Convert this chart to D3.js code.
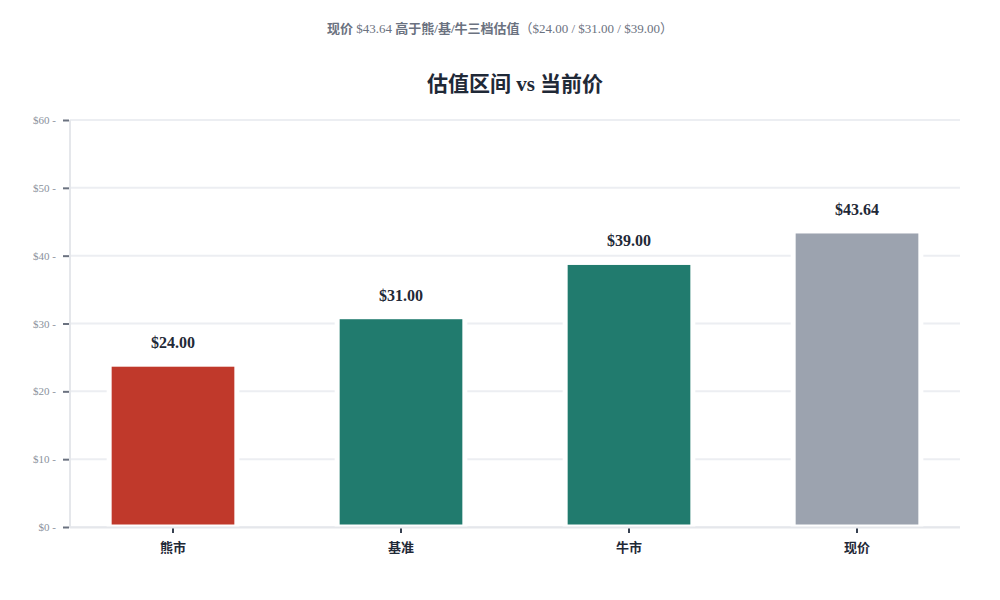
<!DOCTYPE html>
<html>
<head>
<meta charset="utf-8">
<script src="https://cdn.jsdelivr.net/npm/d3@7"></script>
<style>
  body { margin: 0; background: #fff; }
  text { font-family: "Liberation Serif", "Times New Roman", "Noto Sans CJK SC", serif; }
</style>
</head>
<body>
<div id="chart"></div>
<script>
// chart data
var categories = ['熊市', '基准', '牛市', '现价'];
var values = [24.00, 31.00, 39.00, 43.64];
var barColors = ['#c0392b', '#217b6e', '#217b6e', '#9ca3af'];
var yTicks = [0, 10, 20, 30, 40, 50, 60];

var width = 1000, height = 600;

var svg = d3.select("#chart")
  .append("svg")
    .attr("width", width)
    .attr("height", height);

// subtitle, cjk parts bold
var sub = svg.append("text")
  .attr("x", 500)
  .attr("y", 33)
  .attr("text-anchor", "middle")
  .attr("fill", "#6b7280")
  .style("font-size", "13px");
sub.append("tspan").attr("font-weight", "bold").text("现价 ");
sub.append("tspan").text("$" + values[3].toFixed(2) + " ");
sub.append("tspan").attr("font-weight", "bold").text("高于熊/基/牛三档估值");
sub.append("tspan").text("（$" + values.slice(0, 3).map(function(v) { return v.toFixed(2); }).join(" / $") + "）");

svg.append("text")
  .attr("x", 515)
  .attr("y", 91)
  .attr("text-anchor", "middle")
  .attr("fill", "#1f2937")
  .attr("font-weight", "bold")
  .style("font-size", "21px")
  .text("估值区间 vs 当前价");

var x = d3.scaleBand()
  .domain(categories)
  .range([59, 971])
  .paddingInner(0.44)
  .paddingOuter(0.22);

var y = d3.scaleLinear()
  .domain([0, 60])
  .range([527, 120]);

// grid lines
svg.append("g")
  .selectAll("line")
  .data(yTicks)
  .join("line")
    .attr("x1", 70)
    .attr("x2", 960)
    .attr("y1", function(d) { return y(d); })
    .attr("y2", function(d) { return y(d); })
    .attr("stroke", "#eceef2")
    .attr("stroke-width", 2);

// bars
svg.append("g")
  .selectAll("rect")
  .data(values)
  .join("rect")
    .attr("x", function(d, i) { return x(categories[i]); })
    .attr("y", function(d) { return y(d); })
    .attr("width", x.bandwidth())
    .attr("height", function(d) { return y(0) - y(d); })
    .attr("fill", function(d, i) { return barColors[i]; })
    .attr("stroke", "#fff")
    .attr("stroke-width", 5);

// value labels
svg.append("g")
  .selectAll("text")
  .data(values)
  .join("text")
    .attr("x", function(d, i) { return x(categories[i]) + x.bandwidth() / 2; })
    .attr("y", function(d) { return y(d) - 16; })
    .attr("text-anchor", "middle")
    .attr("fill", "#1f2937")
    .attr("font-weight", "bold")
    .style("font-size", "16px")
    .text(function(d) { return "$" + d.toFixed(2); });

// y axis
var yAxis = d3.axisLeft(y)
  .tickValues(yTicks)
  .tickSize(6)
  .tickPadding(7)
  .tickFormat(function(d) { return "$" + d + " -"; });

var gy = svg.append("g")
  .attr("transform", "translate(69,0)")
  .call(yAxis);
gy.select(".domain").remove();
gy.selectAll(".tick line").attr("stroke", "#6b7280").attr("stroke-width", 2);
gy.selectAll(".tick text")
  .attr("fill", "#8a919c")
  .style("font-size", "11px")
  .style("font-family", "'Liberation Serif', serif");

svg.append("line")
  .attr("x1", 70).attr("x2", 70)
  .attr("y1", y(60)).attr("y2", y(0) + 1)
  .attr("stroke", "#e5e7eb")
  .attr("stroke-width", 2);

// x axis
var xAxis = d3.axisBottom(x)
  .tickSize(5)
  .tickPadding(10);

var gx = svg.append("g")
  .attr("transform", "translate(0," + (y(0) + 1) + ")")
  .call(xAxis);
gx.select(".domain").remove();
gx.selectAll(".tick line").attr("stroke", "#374151").attr("stroke-width", 2);
gx.selectAll(".tick text")
  .attr("fill", "#1f2937")
  .attr("font-weight", "bold")
  .style("font-size", "13px")
  .style("font-family", "'Liberation Serif', 'Noto Sans CJK SC', serif");

svg.append("line")
  .attr("x1", 70).attr("x2", 960)
  .attr("y1", y(0) + 0.5).attr("y2", y(0) + 0.5)
  .attr("stroke", "#e5e7eb")
  .attr("stroke-width", 2);
</script>
</body>
</html>
